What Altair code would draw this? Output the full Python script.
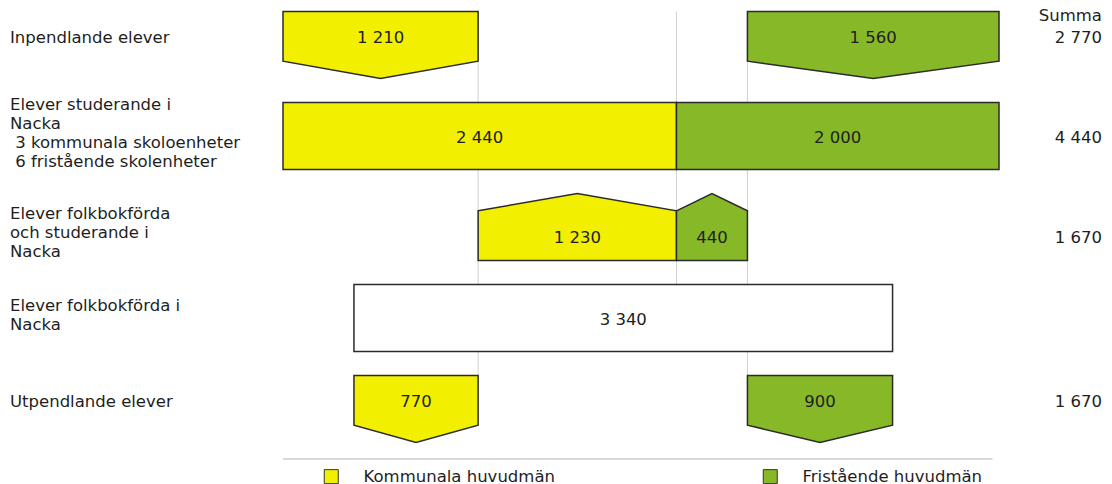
import altair as alt
import pandas as pd

# ---------------- data ----------------
row_labels = [
    "Inpendlande elever",
    "Elever studerande i\nNacka\n\u200b\u00a03 kommunala skoloenheter\n\u200b\u00a06 fristående skolenheter",
    "Elever folkbokförda\noch studerande i\nNacka",
    "Elever folkbokförda i\nNacka",
    "Utpendlande elever",
]
row_shapes = ["down", "rect", "up", "rect", "down"]
# inpendlande, studerande i Nacka, folkbokförda och studerande, utpendlande
kommunala = [1210, 2440, 1230, 770]
fristaende = [1560, 2000, 440, 900]
folkbokforda = 3340
summa = [2770, 4440, 1670, None, 1670]
series = ["Kommunala huvudmän", "Fristående huvudmän", "Folkbokförda i Nacka"]
colors = ["#f2ef00", "#86b828", "#ffffff"]

FONT = "DejaVu Sans"
FS = 16.5
LH = 19
TXT = "#1e1e1e"
ROWPX = 91     # pixels per row
HALF = 0.368   # half height of a shape in row units
ARROW = 0.19   # arrow depth in row units
W_PX, H_PX = 1096, 476


def fmt(v):
    return f"{v:,}".replace(",", " ")


k_in, k_st, k_both, k_ut = kommunala
f_in, f_st, f_both, f_ut = fristaende
total_st = k_st + f_st
K, F, W = series

segments = [
    (0, K, 0, k_in, k_in),
    (0, F, total_st - f_in, total_st, f_in),
    (1, K, 0, k_st, k_st),
    (1, F, k_st, total_st, f_st),
    (2, K, k_in, k_st, k_both),
    (2, F, k_st, k_st + f_both, f_both),
    (3, W, k_in - k_ut, k_st + f_both + f_ut, folkbokforda),
    (4, K, k_in - k_ut, k_in, k_ut),
    (4, F, k_st + f_both, k_st + f_both + f_ut, f_ut),
]

area_rows, label_rows = [], []
for i, (r, s, x0, x1, v) in enumerate(segments):
    shp = row_shapes[r]
    mid = (x0 + x1) / 2
    if shp == "rect":
        pts = [(x0, r - HALF, r + HALF), (x1, r - HALF, r + HALF)]
        ly = r
    elif shp == "down":
        pts = [(x0, r - HALF, r + HALF - ARROW), (mid, r - HALF, r + HALF),
               (x1, r - HALF, r + HALF - ARROW)]
        ly = r - ARROW / 2
    else:
        pts = [(x0, r - HALF + ARROW, r + HALF), (mid, r - HALF, r + HALF),
               (x1, r - HALF + ARROW, r + HALF)]
        ly = r + ARROW / 2
    for (px, py, py2) in pts:
        area_rows.append({"id": i, "serie": s, "x": px, "y": py, "y2": py2})
    label_rows.append({"x": mid, "y": ly, "text": fmt(v)})

areas = pd.DataFrame(area_rows)
labels = pd.DataFrame(label_rows)

grid = pd.DataFrame({
    "x": [k_in, k_st, k_st + f_both],
    "y": [-HALF, -HALF, -HALF],
    "y2": [4 - HALF, 3 - HALF, 4 - HALF],
})

row_y = []
for r, shp in enumerate(row_shapes):
    row_y.append(r - ARROW / 2 if shp == "down" else (r + ARROW / 2 if shp == "up" else r))

left_y = []
for yv, lab in zip(row_y, row_labels):
    n = lab.count("\n") + 1
    shift = ((n - 1) * LH / 2 + (5 if n > 1 else 0)) / ROWPX
    left_y.append(yv - shift)

left = pd.DataFrame({"y": left_y, "text": row_labels})
sums = pd.DataFrame({"y": [row_y[i] for i, s in enumerate(summa) if s is not None],
                     "text": [fmt(s) for s in summa if s is not None]})
header = pd.DataFrame({"y": [row_y[0]], "text": ["Summa"]})
divider = pd.DataFrame({"x": [0], "x2": [4400], "y": [4 + 0.55]})

# ---------------- scales ----------------
PX = 716 / 4440
xs = alt.Scale(domain=[-275 / PX, (W_PX - 275) / PX], nice=False, zero=False)
ys = alt.Scale(domain=[-37 / ROWPX, (H_PX - 37) / ROWPX], nice=False, zero=False, reverse=True)

X = lambda f="x": alt.X(f"{f}:Q", scale=xs, axis=None)
Y = lambda f="y": alt.Y(f"{f}:Q", scale=ys, axis=None)

rules = alt.Chart(grid).mark_rule(color="#d2d2d2", strokeWidth=1).encode(
    x=X(), y=Y(), y2="y2:Q")

shape_layer = alt.Chart(areas).mark_area(
    orient="vertical", stroke="#2b2b2b", strokeWidth=1.5, opacity=1,
    interpolate="linear").encode(
    x=X(), y=Y(), y2="y2:Q",
    detail="id:N",
    color=alt.Color("serie:N", scale=alt.Scale(domain=series, range=colors),
                    legend=alt.Legend(
                        orient="none", legendX=315, legendY=460,
                        direction="horizontal", title=None, values=[K, F],
                        symbolType="square", symbolSize=196,
                        symbolStrokeColor="#333333", symbolStrokeWidth=1,
                        labelFont=FONT, labelFontSize=FS, labelColor=TXT,
                        labelOffset=24, columnPadding=206, labelLimit=400)),
)

num_text = alt.Chart(labels).mark_text(
    font=FONT, fontSize=FS, color=TXT, baseline="middle", dy=2).encode(
    x=X(), y=Y(), text="text:N")

left_text = alt.Chart(left).mark_text(
    font=FONT, fontSize=FS, color=TXT, align="left", baseline="middle", dy=2,
    lineBreak="\n", lineHeight=LH).encode(
    x=alt.value(2), y=Y(), text="text:N")

sum_text = alt.Chart(sums).mark_text(
    font=FONT, fontSize=FS, color=TXT, align="right", baseline="middle", dy=2).encode(
    x=alt.value(W_PX - 2), y=Y(), text="text:N")

head_text = alt.Chart(header).mark_text(
    font=FONT, fontSize=FS, color=TXT, align="right", baseline="middle", dy=-20).encode(
    x=alt.value(W_PX - 2), y=Y(), text="text:N")

div_rule = alt.Chart(divider).mark_rule(color="#d9d9d9", strokeWidth=2).encode(
    x=X(), x2="x2:Q", y=Y())

chart = alt.layer(rules, shape_layer, num_text, left_text, sum_text, head_text, div_rule).properties(
    width=W_PX, height=H_PX, padding=0,
    autosize=alt.AutoSizeParams(type="none"),
).configure_view(stroke=None)

chart.save("out.html", embed_options={"renderer": "svg", "actions": False})
